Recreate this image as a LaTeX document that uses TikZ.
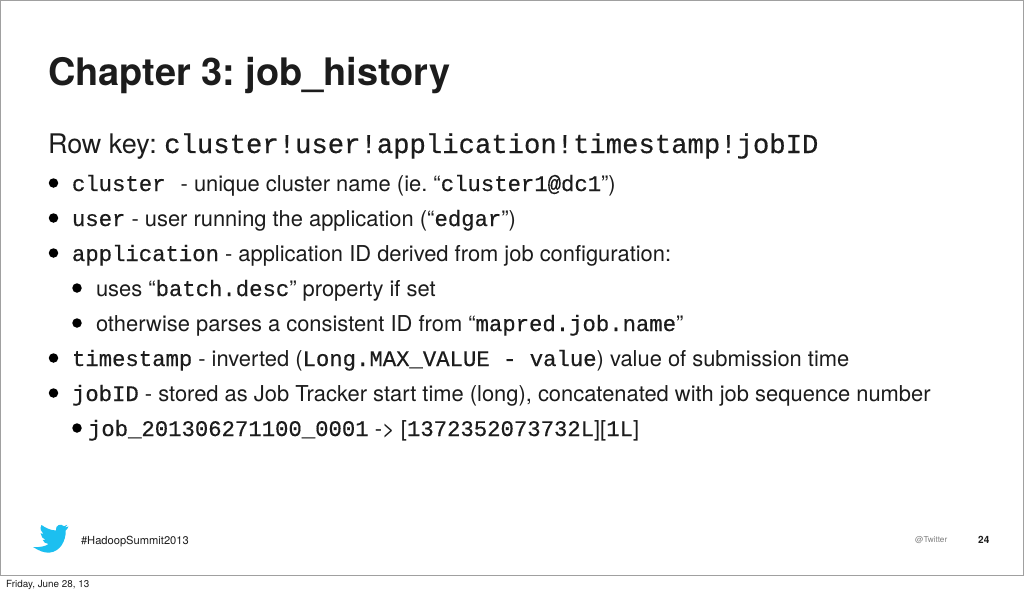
\documentclass[tikz,border=0pt]{standalone}
\usepackage{fontspec}
\setmainfont{TeX Gyre Heros}
\setmonofont{Liberation Mono}[Scale=1.017,FakeBold=0.45]
\definecolor{ink}{HTML}{1C1C1C}
\definecolor{birdblue}{HTML}{1CBFF0}
\definecolor{framegray}{HTML}{A0A0A0}
\newcommand{\mc}[1]{{\ttfamily #1}}
\tikzset{x=1pt,y=-1pt,
 body/.style={anchor=base west,inner sep=0pt,outer sep=0pt,text=ink,font=\fontsize{21.9}{24}\selectfont},
 bul/.style={circle,fill=black,inner sep=0pt,minimum size=9.5pt},
 small/.style={anchor=base west,inner sep=0pt,outer sep=0pt,text=ink,font=\fontsize{11.15}{14}\selectfont}}
\begin{document}
\frenchspacing
\begin{tikzpicture}
\useasboundingbox (0,0) rectangle (1024,592);
\fill[white] (0,0) rectangle (1024,592);
\draw[framegray,line width=1pt] (0.5,-1) -- (0.5,575.5) -- (1023.5,575.5) -- (1023.5,-1);
\draw[framegray,line width=1pt] (0,0.5) -- (1024,0.5);
\node[anchor=base west,inner sep=0,text=ink,font=\fontsize{37.9}{40}\selectfont\bfseries] (title) at (48,85.6) {Chapter 3: job\_history};
\node[body,font=\fontsize{27}{30}\selectfont] (rk) at (48,153) {Row key: {\fontsize{26.8}{30}\selectfont\mc{cluster!user!application!timestamp!jobID}}};
\node[bul] (b1) at (53.5,183) {};
\node[body] (l1) at (72,191) {\mc{cluster}\hspace{9pt} - unique cluster name (ie. “\mc{cluster1@dc1}”)};
\node[bul] (b2) at (53.5,218) {};
\node[body] (l2) at (72,226) {\mc{user} - user running the application (“\mc{edgar}”)};
\node[bul] (b3) at (53.5,253) {};
\node[body] (l3) at (72,261) {\mc{application} - application ID derived from job configuration:};
\node[bul] (b4) at (77,288) {};
\node[body] (l4) at (96,296) {uses “\mc{batch.desc}” property if set};
\node[bul] (b5) at (77,323) {};
\node[body] (l5) at (96,331) {otherwise parses a consistent ID from “\mc{mapred.job.name}”};
\node[bul] (b6) at (53.5,358) {};
\node[body] (l6) at (72,366) {\mc{timestamp} - inverted (\mc{Long.MAX\_VALUE - value}) value of submission time};
\node[bul] (b7) at (53.5,393) {};
\node[body] (l7) at (72,401) {\mc{jobID} - stored as Job Tracker start time (long), concatenated with job sequence number};
\node[bul] (b8) at (77,428) {};
\node[body] (l8) at (88,436) {\mc{job\_201306271100\_0001} -{}> [\mc{1372352073732L}][\mc{1L}]};
\fill[birdblue] (68.5,526.5) .. controls (67,527.3) and (66,527.5) .. (65,527.6) .. controls (66.2,527) and (67,526) .. (67.4,524.8) .. controls (66.3,525.5) and (65,526) .. (64,526.2) .. controls (61,523) and (55,525) .. (56,530.5) .. controls (50,530.3) and (45,527.5) .. (41.5,525) .. controls (39.5,528.5) and (41,532) .. (43.5,534) .. controls (42.5,534) and (41.5,533.7) .. (40.7,533.2) .. controls (40.7,536.5) and (43,539) .. (45.5,539.7) .. controls (44.5,540) and (43.7,540) .. (42.7,539.9) .. controls (43.5,542.2) and (45.7,543.7) .. (48.5,544) .. controls (45.5,546.3) and (40,547.5) .. (33,547) .. controls (38,550) and (44,553.5) .. (50,552.5) .. controls (60,551.5) and (66,541) .. (65.7,530.5) .. controls (66.8,529.7) and (67.8,528) .. (68.5,526.5) -- cycle;
\node[small] (tag) at (81,544.5) {\#HadoopSummit2013};
\node[anchor=base west,inner sep=0,text=gray,font=\fontsize{8.2}{11}\selectfont] (tw) at (915,542.5) {@Twitter};
\node[anchor=base west,inner sep=0,text=ink,font=\fontsize{10}{11}\selectfont\bfseries] (pg) at (978,543) {24};
\node[anchor=base west,inner sep=0,text=ink,font=\fontsize{9.85}{13}\selectfont] (dt) at (6,587) {Friday, June 28, 13};
\end{tikzpicture}
\end{document}
